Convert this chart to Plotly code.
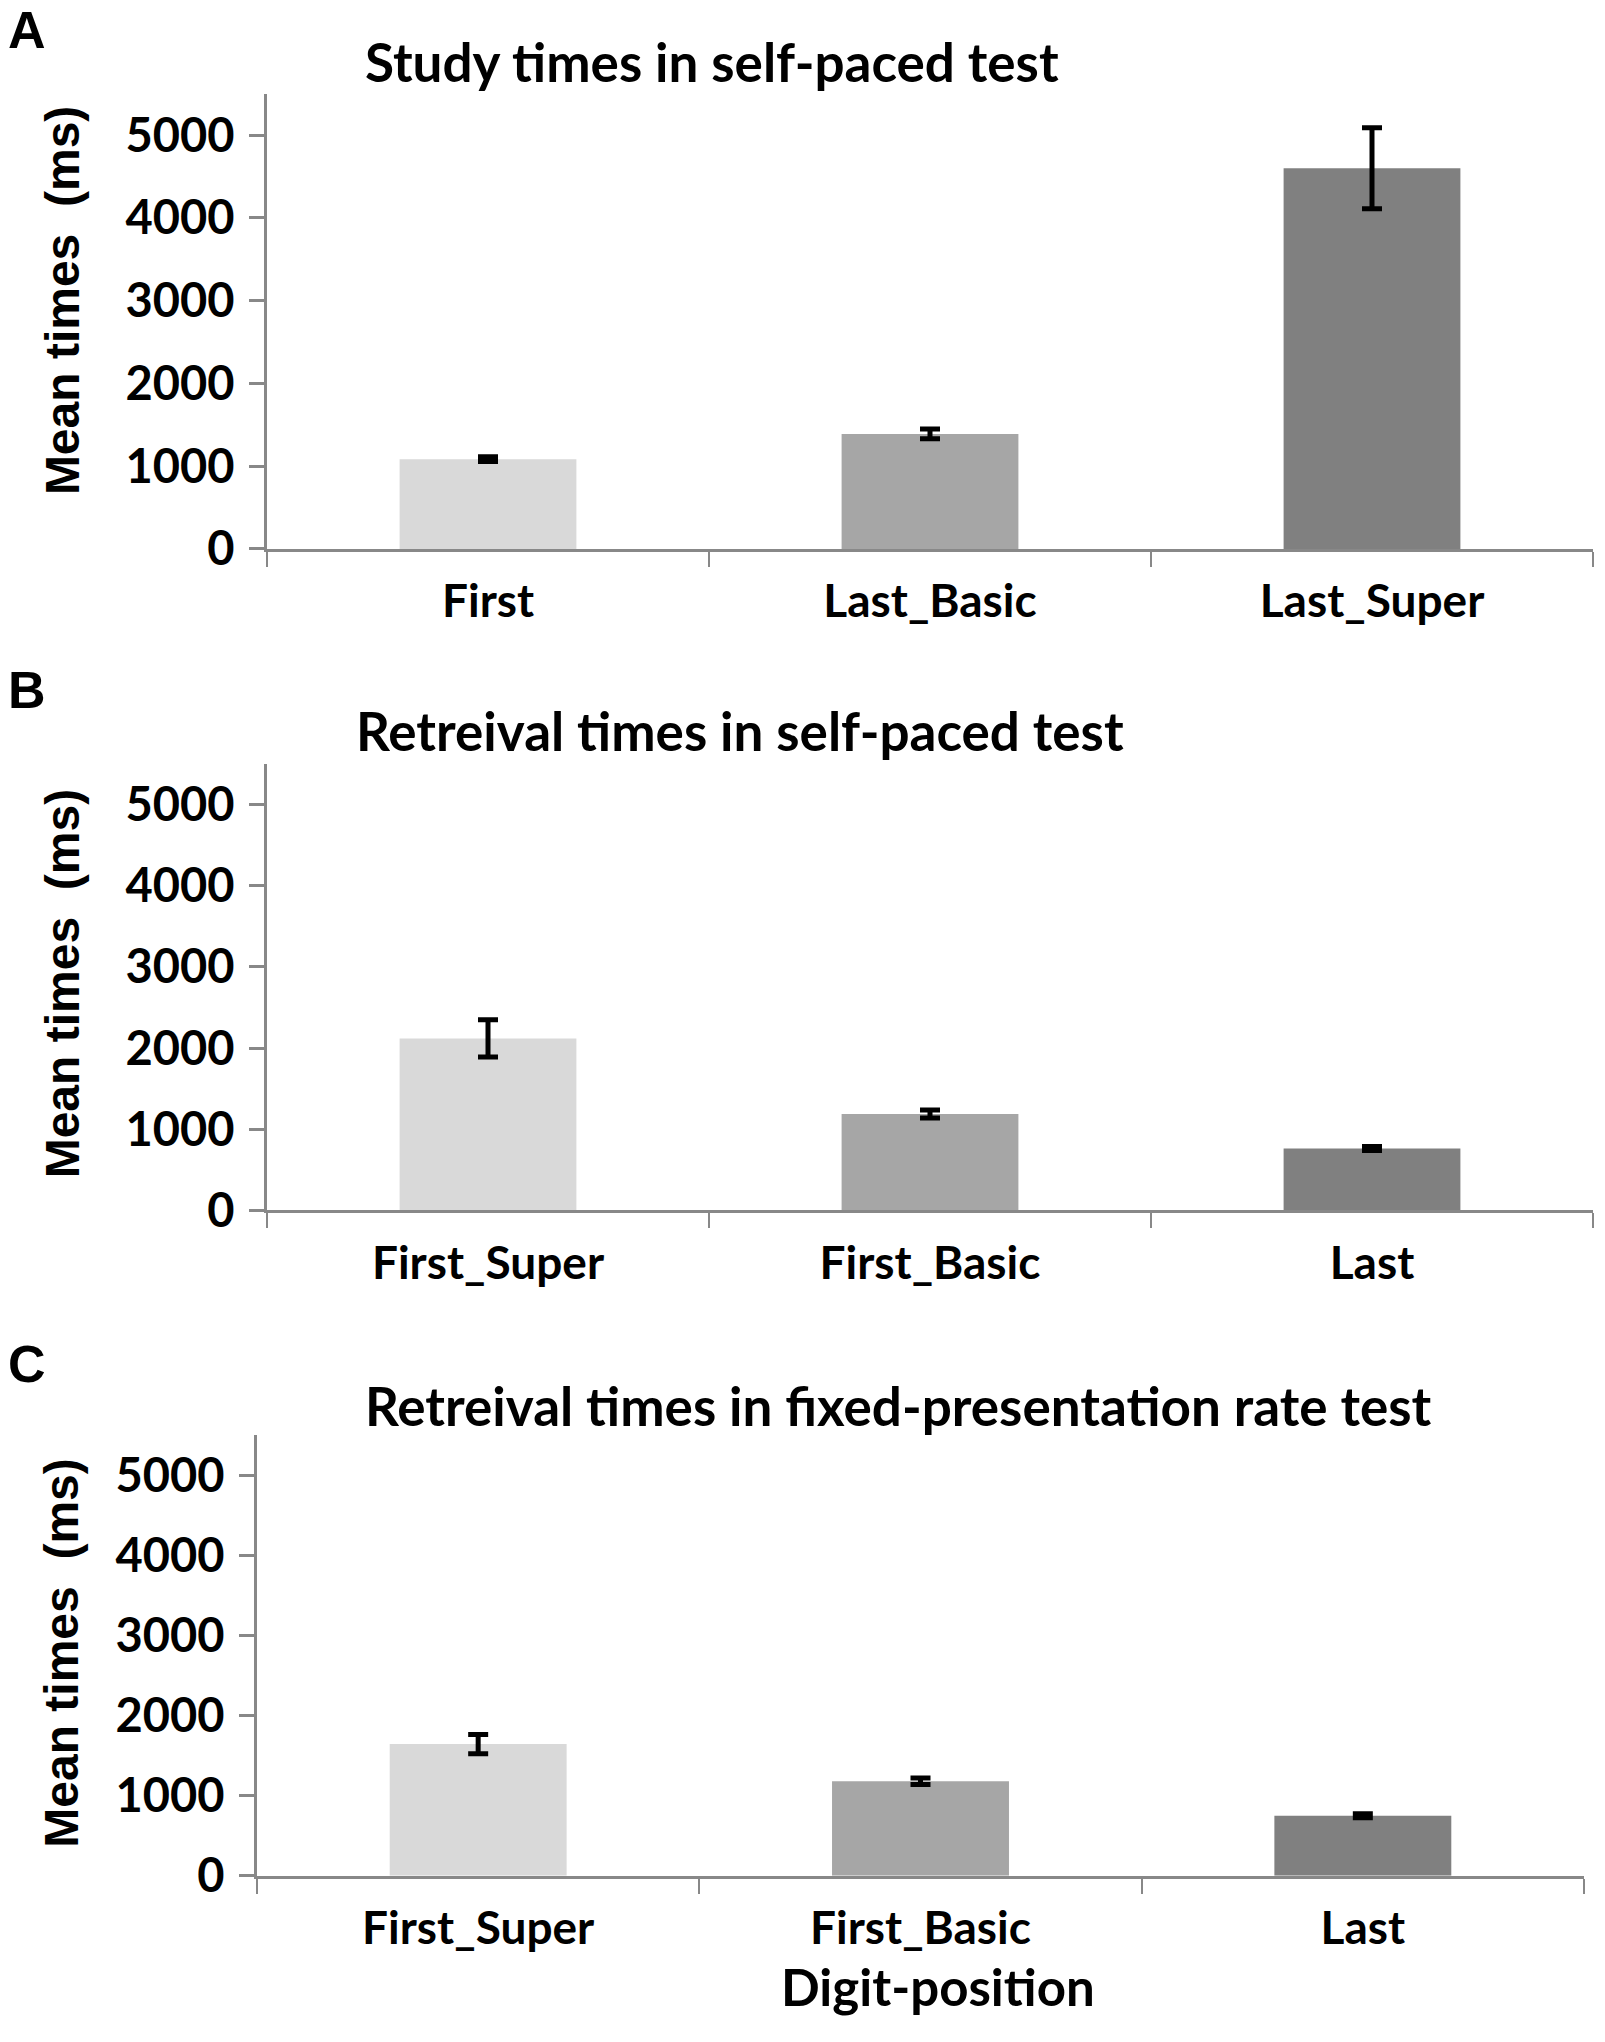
import plotly.graph_objects as go

W, H = 1605, 2042

# panel A - study times, self-paced
cats_a = ["First", "Last_Basic", "Last_Super"]
mean_a = [1085, 1390, 4600]
err_a = [30, 60, 490]

# panel B - retrieval times, self-paced
cats_b = ["First_Super", "First_Basic", "Last"]
mean_b = [2120, 1188, 763]
err_b = [230, 50, 25]

# panel C - retrieval times, fixed presentation rate
cats_c = ["First_Super", "First_Basic", "Last"]
mean_c = [1645, 1181, 750]
err_c = [120, 40, 25]

bar_colors = ["#d9d9d9", "#a6a6a6", "#808080"]
titles = ["Study times in self-paced test",
          "Retreival times in self-paced test",
          "Retreival times in fixed-presentation rate test"]
letters = ["A", "B", "C"]
ytitle = "Mean times  (ms)"
xtitle = "Digit-position"
yticks = [0, 1000, 2000, 3000, 4000, 5000]

# pixel boxes of the three plot areas: left, right, top, bottom
boxes = [(267, 1593, 95, 556), (267, 1593, 774, 1226), (257, 1584, 1454, 1900)]
title_pos = [(712, 62), (740, 740), (898, 1424)]
letter_pos = [(27, 30), (27, 699), (27, 1382)]
ylab_pos = [305, 997, 1675]


def px(x):
    return x / W


def py_(y):
    return 1 - y / H


axcol = "#888888"
num_font = dict(family="Lato", size=47, color="black", weight="bold")
cat_font = dict(family="Lato", size=46, color="black", weight="bold")

fig = go.Figure()
panels = [(cats_a, mean_a, err_a), (cats_b, mean_b, err_b), (cats_c, mean_c, err_c)]
for i, (cats, vals, errs) in enumerate(panels):
    n = "" if i == 0 else str(i + 1)
    fig.add_trace(go.Bar(
        x=cats, y=vals, width=0.4,
        marker=dict(color=bar_colors, line_width=0),
        error_y=dict(type="data", array=errs, visible=True,
                     color="black", thickness=5, width=10),
        xaxis="x" + n, yaxis="y" + n, showlegend=False))
    l, r, t, b = boxes[i]
    fig.layout["xaxis" + n] = dict(
        domain=[px(l), px(r)], anchor="y" + n, type="category",
        showline=True, linecolor=axcol, linewidth=3,
        ticks="outside", tickson="boundaries", ticklen=15, tickwidth=2, tickcolor=axcol,
        tickfont=cat_font, ticklabelstandoff=10, showgrid=False, zeroline=False,
        fixedrange=True)
    fig.layout["yaxis" + n] = dict(
        domain=[py_(b), py_(t)], anchor="x" + n, range=[0, 5500],
        tickvals=yticks, showline=True, linecolor=axcol, linewidth=3,
        ticks="outside", ticklen=15, tickwidth=3, tickcolor=axcol,
        tickfont=num_font, ticklabelstandoff=5, showgrid=False, zeroline=False)

    tx, ty = title_pos[i]
    fig.add_annotation(x=px(tx), y=py_(ty), xref="paper", yref="paper",
                       text=titles[i], showarrow=False, xanchor="center", yanchor="middle",
                       font=dict(family="Lato", size=53, color="black", weight="bold"))
    lx, ly = letter_pos[i]
    fig.add_annotation(x=px(lx), y=py_(ly), xref="paper", yref="paper",
                       text=letters[i], showarrow=False, xanchor="center", yanchor="middle",
                       borderpad=0,
                       font=dict(family="Liberation Sans", size=52, color="black", weight="bold"))
    fig.add_annotation(x=px(62), y=py_(ylab_pos[i]),
                       xref="paper", yref="paper", text=ytitle, textangle=-90,
                       showarrow=False, xanchor="center", yanchor="middle",
                       font=dict(family="Liberation Sans", size=48, color="black", weight="bold"))

fig.add_annotation(x=px(938), y=py_(2012), xref="paper", yref="paper",
                   text=xtitle, showarrow=False, xanchor="center", yanchor="middle",
                   font=dict(family="Lato", size=51, color="black", weight="bold"))

fig.update_layout(width=W, height=H, margin=dict(l=0, r=0, t=0, b=0),
                  paper_bgcolor="white", plot_bgcolor="white", bargap=0.6)

# drop the default body margin so the figure sits at the page origin
fig.write_html("out.html", config={"displayModeBar": False},
               post_script="document.body.style.margin='0';")
